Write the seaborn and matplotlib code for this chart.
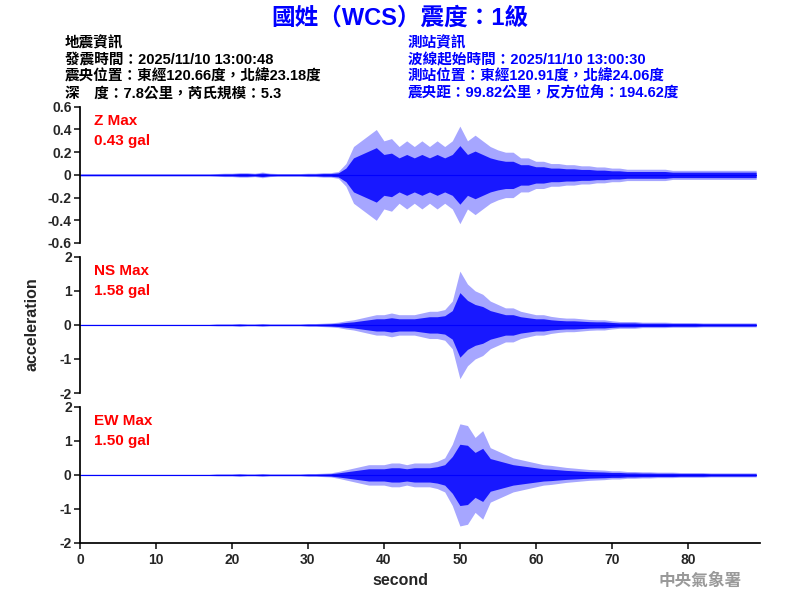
import numpy as np
import matplotlib.pyplot as plt
import seaborn as sns

sns.set_theme(style="white")
plt.rcParams['font.family'] = ['Liberation Sans', 'Noto Sans CJK TC', 'DejaVu Sans']

# seconds 0..89, per-second peak amplitude (gal)
seconds = list(range(90))
z_amp = [0.01, 0.01, 0.01, 0.01, 0.01, 0.01, 0.01, 0.01, 0.01, 0.01,
         0.01, 0.01, 0.01, 0.01, 0.01, 0.01, 0.01, 0.01, 0.012, 0.015,
         0.015, 0.02, 0.02, 0.015, 0.025, 0.015, 0.012, 0.012, 0.012, 0.012,
         0.015, 0.015, 0.02, 0.02, 0.03, 0.1, 0.25, 0.3, 0.35, 0.4,
         0.3, 0.32, 0.25, 0.3, 0.25, 0.3, 0.25, 0.3, 0.25, 0.3,
         0.43, 0.3, 0.35, 0.3, 0.25, 0.22, 0.2, 0.2, 0.15, 0.15,
         0.12, 0.12, 0.1, 0.1, 0.09, 0.09, 0.08, 0.08, 0.07, 0.07,
         0.06, 0.06, 0.05, 0.05, 0.05, 0.05, 0.05, 0.05, 0.04, 0.04,
         0.04, 0.04, 0.04, 0.04, 0.04, 0.04, 0.04, 0.04, 0.04, 0.04]
ns_amp = [0.02, 0.02, 0.02, 0.02, 0.02, 0.02, 0.02, 0.02, 0.02, 0.02,
          0.02, 0.02, 0.02, 0.02, 0.02, 0.02, 0.02, 0.02, 0.03, 0.03,
          0.03, 0.04, 0.03, 0.03, 0.04, 0.03, 0.03, 0.03, 0.03, 0.03,
          0.04, 0.04, 0.05, 0.06, 0.08, 0.12, 0.15, 0.2, 0.25, 0.3,
          0.3, 0.35, 0.3, 0.3, 0.3, 0.35, 0.4, 0.4, 0.45, 0.7,
          1.58, 1.2, 1.0, 0.9, 0.7, 0.6, 0.5, 0.5, 0.4, 0.35,
          0.3, 0.3, 0.25, 0.22, 0.2, 0.2, 0.18, 0.16, 0.15, 0.15,
          0.12, 0.1, 0.1, 0.1, 0.08, 0.08, 0.08, 0.08, 0.07, 0.07,
          0.07, 0.07, 0.06, 0.06, 0.06, 0.06, 0.06, 0.06, 0.06, 0.06]
ew_amp = [0.02, 0.02, 0.02, 0.02, 0.02, 0.02, 0.02, 0.02, 0.02, 0.02,
          0.02, 0.02, 0.02, 0.02, 0.02, 0.02, 0.02, 0.02, 0.03, 0.03,
          0.03, 0.04, 0.03, 0.03, 0.04, 0.03, 0.03, 0.03, 0.03, 0.03,
          0.04, 0.04, 0.05, 0.06, 0.1, 0.15, 0.2, 0.25, 0.3, 0.3,
          0.3, 0.35, 0.35, 0.3, 0.35, 0.35, 0.35, 0.4, 0.5, 0.9,
          1.5, 1.45, 1.1, 1.3, 0.8, 0.7, 0.6, 0.5, 0.45, 0.4,
          0.35, 0.3, 0.28, 0.25, 0.22, 0.2, 0.18, 0.16, 0.15, 0.14,
          0.12, 0.12, 0.1, 0.1, 0.09, 0.09, 0.08, 0.08, 0.08, 0.07,
          0.07, 0.07, 0.07, 0.06, 0.06, 0.06, 0.06, 0.06, 0.06, 0.06]

panels = [("Z Max", "0.43 gal", z_amp, 0.6, [-0.6, -0.4, -0.2, 0, 0.2, 0.4, 0.6]),
          ("NS Max", "1.58 gal", ns_amp, 2, [-2, -1, 0, 1, 2]),
          ("EW Max", "1.50 gal", ew_amp, 2, [-2, -1, 0, 1, 2])]

fig = plt.figure(figsize=(8, 6), dpi=100)
bottoms = [0.595, 0.345, 0.095]
for (name, peak, amp, lim, ticks), b in zip(panels, bottoms):
    ax = fig.add_axes([0.1, b, 0.85, 0.227])
    a = np.array(amp)
    ax.fill_between(seconds, -a * 0.6, a * 0.6, color='blue', lw=0, alpha=0.85)
    ax.fill_between(seconds, -a, a, color='blue', lw=0, alpha=0.35)
    ax.plot(seconds, [0] * len(seconds), color='blue', lw=0.8)
    ax.set_xlim(0, 89.5)
    ax.set_ylim(-lim, lim)
    ax.set_yticks(ticks)
    ax.set_yticklabels([f"{t:g}" for t in ticks], fontsize=10, fontweight='bold')
    for s in ['top', 'right']:
        ax.spines[s].set_visible(False)
    for s in ['left', 'bottom']:
        ax.spines[s].set_color('black')
    ax.tick_params(axis='y', left=True, length=4, pad=2)
    if b > 0.1:
        ax.spines['bottom'].set_visible(False)
        ax.set_xticks([])
    else:
        ax.set_xticks([0, 10, 20, 30, 40, 50, 60, 70, 80])
        ax.set_xticklabels([str(t) for t in [0, 10, 20, 30, 40, 50, 60, 70, 80]],
                           fontsize=10, fontweight='bold')
        ax.tick_params(axis='x', bottom=True, length=4)
    ax.text(0.02, 0.95, name, transform=ax.transAxes, color='red', fontsize=11,
            fontweight='bold', va='top')
    ax.text(0.02, 0.80, peak, transform=ax.transAxes, color='red', fontsize=11,
            fontweight='bold', va='top')

fig.text(0.5, 0.97, "國姓（WCS）震度：1級", color='blue', fontsize=17,
         fontweight='bold', ha='center', va='center')
left = ["地震資訊", "發震時間：2025/11/10 13:00:48",
        "震央位置：東經120.66度，北緯23.18度", "深　度：7.8公里，芮氏規模：5.3"]
right = ["測站資訊", "波線起始時間：2025/11/10 13:00:30",
         "測站位置：東經120.91度，北緯24.06度", "震央距：99.82公里，反方位角：194.62度"]
for i, (l, r) in enumerate(zip(left, right)):
    y = 0.928 - i * 0.028
    fig.text(0.081, y, l, color='black', fontsize=10.5, fontweight='bold', va='center')
    fig.text(0.51, y, r, color='blue', fontsize=10.5, fontweight='bold', va='center')

fig.text(0.04, 0.46, "acceleration", rotation=90, fontsize=11.5, fontweight='bold',
         ha='center', va='center')
fig.text(0.5, 0.033, "second", fontsize=11.5, fontweight='bold', ha='center', va='center')
fig.text(0.875, 0.032, "中央氣象署", color='#999999', fontsize=12, fontweight='bold',
         ha='center', va='center')

fig.savefig("out.png", dpi=100)
